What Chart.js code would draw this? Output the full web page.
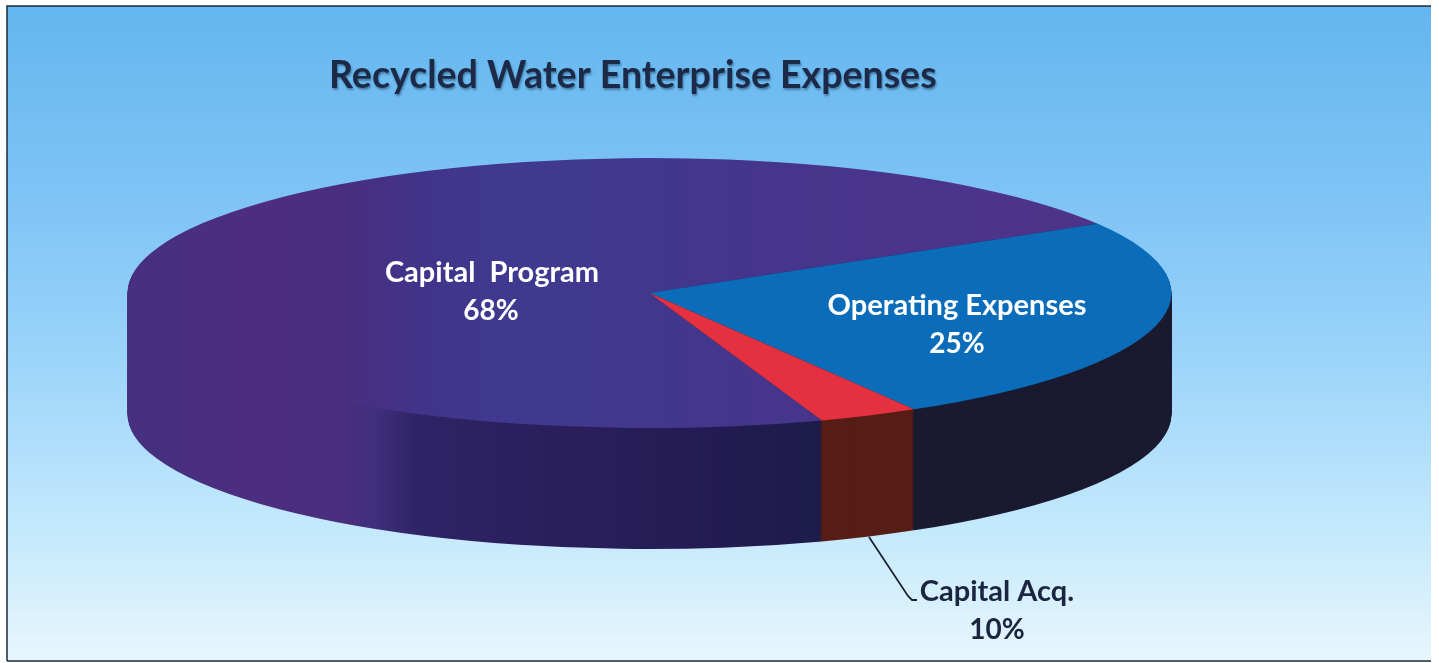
<!DOCTYPE html>
<html><head><meta charset="utf-8">
<script src="https://cdn.jsdelivr.net/npm/chart.js@4"></script>
<style>html,body{margin:0;padding:0;background:#fff}canvas{display:block}</style>
</head><body><canvas id="c" width="1439" height="663"></canvas>
<script>
const titleText = 'Recycled Water Enterprise Expenses';
const categories = ['Capital  Program', 'Operating Expenses', 'Capital Acq.'];
const printedPercents = ['68%', '25%', '10%'];
// slice sizes as drawn in the picture (the printed labels do not match the drawn angles)
const sliceShares = [71.8, 25.1, 3.1];
const topColors = ['#473488', '#0b6cb9', '#e5303f'];
const sideColors = ['#2a1f5c', '#1a1a30', '#571d17'];
const labelColors = ['#ffffff', '#ffffff', '#1c2540'];
const labelCenters = [[492, 273], [957, 306], [997, 592]];
const startAngle = 160.7;

const CX = 649.5, CY = 293, RX = 522, RY = 135, DEPTH = 121;

function place(ctx, arc, dy) {
  const sx = RX / arc.outerRadius, sy = RY / arc.outerRadius;
  ctx.translate(CX, CY + dy);
  ctx.scale(sx, sy);
  ctx.translate(-arc.x, -arc.y);
}
function hGrad(ctx, arc, stops) {
  const sx = RX / arc.outerRadius;
  const toUser = X => (X - CX) / sx + arc.x;
  const g = ctx.createLinearGradient(toUser(120), 0, toUser(1180), 0);
  stops.forEach(s => g.addColorStop((s[0] - 120) / 1060, s[1]));
  return g;
}
function paint(ctx, arc, color, dy) {
  const o = arc.options;
  ctx.save();
  place(ctx, arc, dy);
  arc.options = Object.assign({}, o, { backgroundColor: color, borderWidth: 0 });
  arc.draw(ctx);
  arc.options = o;
  ctx.restore();
}

const scene = {
  id: 'scene',
  beforeDraw(chart) {
    const ctx = chart.ctx;
    ctx.save();
    const g = ctx.createLinearGradient(0, 6, 0, 661);
    g.addColorStop(0, '#63b6ef');
    g.addColorStop(0.3, '#7fc4f5');
    g.addColorStop(0.55, '#9dd5fa');
    g.addColorStop(0.8, '#c4e9fc');
    g.addColorStop(1, '#e8f6fd');
    ctx.fillStyle = g;
    ctx.fillRect(7, 6, 1424, 655);
    ctx.strokeStyle = '#1a2a3a';
    ctx.lineWidth = 1.5;
    ctx.beginPath();
    ctx.moveTo(7, 661); ctx.lineTo(7, 6); ctx.lineTo(1431, 6);
    ctx.moveTo(7, 661); ctx.lineTo(1431, 661);
    ctx.stroke();
    ctx.restore();
    // soft shadow picked up by the title box, which is drawn next
    ctx.shadowColor = 'rgba(20,50,80,0.45)';
    ctx.shadowBlur = 2;
    ctx.shadowOffsetX = 1;
    ctx.shadowOffsetY = 2;
  },
  beforeDatasetsDraw(chart) {
    const ctx = chart.ctx;
    ctx.shadowColor = 'transparent';
    ctx.shadowBlur = 0; ctx.shadowOffsetX = 0; ctx.shadowOffsetY = 0;
  },
  beforeDatasetDraw(chart) {
    const ctx = chart.ctx, arcs = chart.getDatasetMeta(0).data;
    const sideFill = arcs.map((a, i) => i === 0 ? hGrad(ctx, a, [
      [120, '#45307f'], [250, '#4d2d80'], [340, '#4a2e7e'], [375, '#3f2f7c'], [420, '#2e2365'],
      [560, '#2a1f5c'], [700, '#241c54'], [822, '#1d1c4a'], [1180, '#1d1c4a']
    ]) : sideColors[i]);
    const topFill = arcs.map((a, i) => i === 0 ? hGrad(ctx, a, [
      [120, '#45307f'], [250, '#4d2d80'], [340, '#4a2e7e'], [420, '#41348a'], [520, '#3f3a90'],
      [700, '#43368c'], [900, '#4a348c'], [1100, '#4d3488'], [1180, '#4d3488']
    ]) : topColors[i]);
    for (let d = DEPTH; d >= 1; d--) arcs.forEach((a, i) => paint(ctx, a, sideFill[i], d));
    arcs.forEach((a, i) => paint(ctx, a, topFill[i], 0));
    return false;
  },
  afterDatasetsDraw(chart) {
    const ctx = chart.ctx;
    ctx.save();
    ctx.strokeStyle = '#1b2436';
    ctx.lineWidth = 1.8;
    ctx.beginPath();
    ctx.moveTo(869, 537); ctx.lineTo(908, 596); ctx.lineTo(912, 600); ctx.lineTo(917, 600);
    ctx.stroke();
    ctx.textAlign = 'center';
    ctx.textBaseline = 'middle';
    categories.forEach((name, i) => {
      const [x, y] = labelCenters[i];
      ctx.fillStyle = labelColors[i];
      ctx.font = 'bold 29px Lato, "Open Sans", sans-serif';
      ctx.fillText(name, x, y);
      ctx.font = 'bold 28px Lato, "Open Sans", sans-serif';
      ctx.fillText(printedPercents[i], x - (i === 0 ? 1 : 0), y + 38);
    });
    ctx.restore();
  }
};

new Chart(document.getElementById('c'), {
  type: 'pie',
  data: {
    labels: categories,
    datasets: [{ data: sliceShares, backgroundColor: topColors, borderWidth: 0, clip: false }]
  },
  options: {
    responsive: false,
    animation: false,
    rotation: startAngle,
    layout: { padding: { left: 329 } },
    plugins: {
      legend: { display: false },
      tooltip: { enabled: false },
      title: {
        display: true, text: titleText, align: 'start', color: '#1c2a48',
        font: { family: 'Lato, "Open Sans", sans-serif', size: 37.5, weight: 'bold', lineHeight: 1.2 },
        padding: { top: 53, bottom: 10 }
      }
    }
  },
  plugins: [scene]
});
</script></body></html>
